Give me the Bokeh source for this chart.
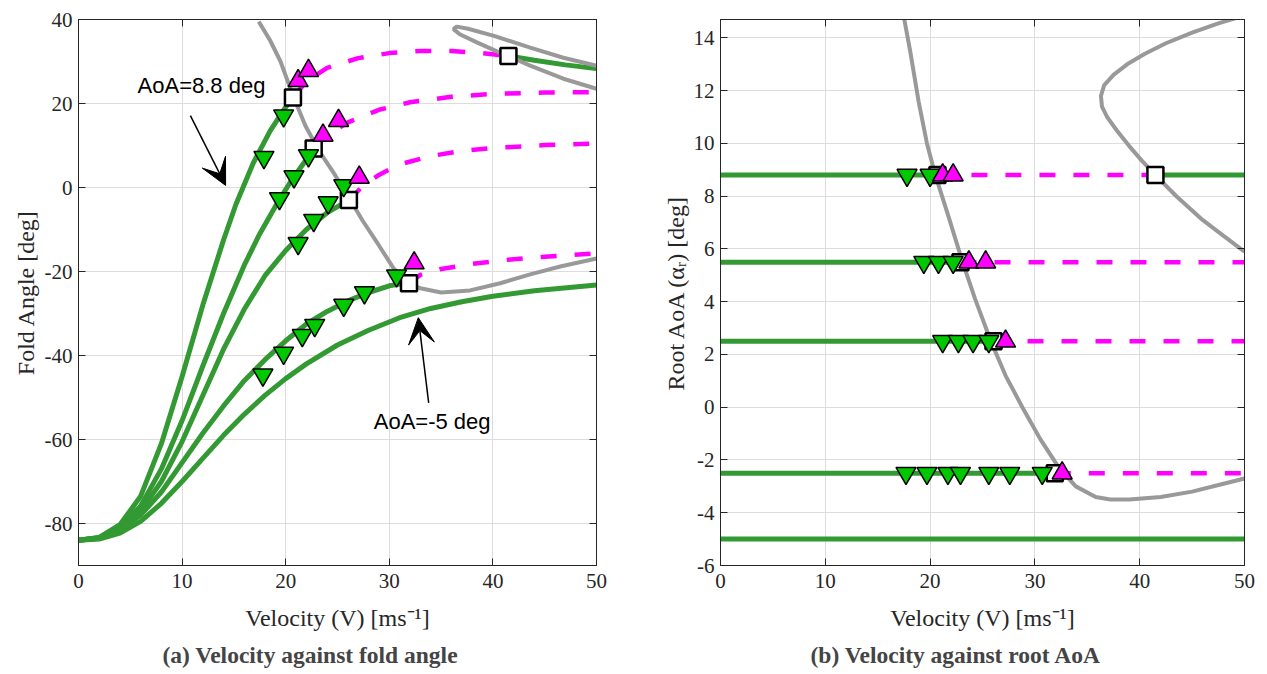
from bokeh.plotting import figure
from bokeh.layouts import row
from bokeh.models import LinearAxis, Label, Arrow, VeeHead, Title
from bokeh.embed import file_html
from bokeh.resources import INLINE

# ---------------- data: left plot (velocity vs fold angle) ----------------
# stable (green) branches
g88a_v = [0, 2, 4, 6, 8, 10, 12, 14, 15.2, 16.9, 18.5, 19.9, 20.7]
g88a_f = [-84, -83.3, -80.3, -73.5, -61, -45, -28, -12.5, -4, 6, 13.5, 18.8, 21.4]
g88b_v = [41.5, 44, 47, 50]
g88b_f = [31.3, 30.3, 29.2, 28.3]
g55_v = [0, 2, 4, 6, 8, 10, 12, 14, 16, 17.5, 19, 20.5, 21.8, 22.7]
g55_f = [-84, -83.4, -81, -75.8, -67, -55.5, -42.5, -30, -18.5, -11, -4.5, 1.5, 6, 9.3]
g25_v = [0, 2, 4, 6, 8, 10, 12, 14, 16, 18, 20, 22, 24, 26.1]
g25_f = [-84, -83.4, -81.3, -77, -70, -60.5, -49.5, -38.5, -29, -21, -15, -10, -6, -3]
gm25_v = [0, 2, 4, 6, 8, 10, 12, 14, 16, 18, 20, 22, 24, 26, 28, 30, 31, 31.9]
gm25_f = [-84, -83.5, -81.5, -78, -72.5, -65.5, -58.5, -52, -46, -41, -36.5, -32.5, -29.5, -27, -25, -23.4, -23, -22.8]
gm5_v = [0, 2, 4, 6, 8, 10, 12, 14, 16, 18, 20, 22, 25, 28, 31, 34, 37, 40, 44, 50]
gm5_f = [-84, -83.7, -82.3, -79.5, -75.2, -70, -64.5, -59, -54, -49.5, -45.5, -42, -37.5, -34, -31, -28.8, -27.2, -25.9, -24.6, -23.2]
# unstable (magenta dashed) branches
d88_v = [20.7, 22, 24, 27, 30, 33, 36, 39, 41.5]
d88_f = [21.4, 25.3, 28.5, 30.8, 32, 32.5, 32.5, 32, 31.3]
d55_v = [22.7, 24, 26, 29, 32, 36, 40, 45, 50]
d55_f = [9.3, 12.5, 15.5, 18.5, 20.3, 21.6, 22.3, 22.6, 22.7]
d25_v = [26.1, 27.5, 29, 31, 34, 37, 40, 45, 50]
d25_f = [-3, 0.5, 3, 5.5, 7.5, 8.7, 9.4, 10.1, 10.5]
dm25_v = [31.9, 33, 35, 38, 41, 45, 50]
dm25_f = [-22.8, -20.8, -19.4, -18.2, -17.3, -16.5, -15.7]
# bifurcation locus (grey)
gl_v = [17.4, 18.5, 19.5, 20.7, 21.9, 23.2, 24.6, 26.1, 27.4, 29, 30.4, 31.9, 33, 35, 37.8, 40.7, 43.6, 46.5, 50]
gl_f = [39.5, 35, 30, 21.9, 14.7, 8.8, 3.6, -2.4, -7.8, -13.8, -19.2, -22.8, -24, -25, -24.5, -22.8, -20.7, -18.8, -16.9]
gloop_v = [50, 46.8, 43.6, 40.1, 37.6, 36.5, 36.2, 36.8, 38.5, 40.5, 41.5, 43.6, 46.8, 50]
gloop_f = [29, 30.9, 33.3, 36.1, 37.8, 38.3, 37.7, 36.5, 34.5, 32.3, 31.3, 29, 25.9, 23.5]
# markers
sq_v = [20.7, 22.7, 26.1, 31.9, 41.5]
sq_f = [21.4, 9.3, -3, -22.8, 31.3]
up_v = [21.2, 22.2, 23.6, 25.1, 27.1, 32.4]
up_f = [25.4, 27.8, 12.4, 15.9, 2.4, -18]
dn_v = [17.9, 19.8, 19.4, 20.8, 22.2, 21.2, 22.7, 24.1, 25.6, 17.8, 19.8, 21.6, 22.8, 25.6, 27.6, 30.7]
dn_f = [7.2, 17.1, -2.6, 2.6, 7.6, -13.3, -7.8, -3.6, 0.5, -44.6, -39.4, -35.2, -32.8, -28, -25, -21]

# ---------------- data: right plot (velocity vs root AoA) ----------------
aoa = [8.8, 5.5, 2.5, -2.5, -5]
bif_v = [20.7, 22.9, 26.05, 31.9]          # first bifurcation per AoA (8.8, 5.5, 2.5, -2.5)
restab_v = 41.5                             # re-stabilisation for AoA 8.8
r_gl_v = [17.4, 18.1, 18.9, 19.7, 20.5, 21.7, 23.1, 24.3, 25.8, 27.2, 28.8, 30.5, 32.3, 33.9, 35.8, 37.2, 39, 42, 45, 48, 50]
r_gl_a = [15, 13.5, 11.6, 10, 8.8, 7.3, 5.5, 4.1, 2.5, 1.2, 0, -1.2, -2.3, -3, -3.4, -3.5, -3.5, -3.4, -3.2, -2.9, -2.7]
r_loop_v = [50, 47.5, 45, 42.5, 40.5, 38.8, 37.5, 36.6, 36.3, 36.4, 36.9, 37.8, 39.0, 40.2, 41.5, 43.5, 46, 48, 50]
r_loop_a = [14.85, 14.55, 14.2, 13.8, 13.4, 13.0, 12.6, 12.2, 11.8, 11.4, 11.0, 10.5, 9.9, 9.35, 8.8, 8.0, 7.1, 6.5, 5.9]
r_dn_v = [17.8, 20.0, 19.4, 20.8, 22.2, 21.2, 22.7, 24.1, 25.6, 17.7, 19.7, 21.7, 22.9, 25.6, 27.6, 30.7]
r_dn_a = [8.8, 8.8, 5.5, 5.5, 5.5, 2.5, 2.5, 2.5, 2.5, -2.5, -2.5, -2.5, -2.5, -2.5, -2.5, -2.5]
r_up_v = [21.2, 22.2, 23.7, 25.3, 27.2, 32.6]
r_up_a = [8.8, 8.8, 5.5, 5.5, 2.5, -2.5]
r_sq_v = [20.7, 22.9, 26.05, 31.9, 41.5]
r_sq_a = [8.8, 5.5, 2.5, -2.5, 8.8]

x_ticks = [0, 10, 20, 30, 40, 50]
l_yticks = [-80, -60, -40, -20, 0, 20, 40]
r_yticks = [-6, -4, -2, 0, 2, 4, 6, 8, 10, 12, 14]

GREEN = "#339933"
MGREEN = "#00C800"
MAG = "#FF00FF"
GREY = "#999999"
AX = "#262626"
SERIF = "Liberation Serif"
SANS = "Liberation Sans"


def style(p, yticks, ylabel, ylab_standoff):
    p.xaxis.ticker = x_ticks
    p.yaxis.ticker = yticks
    p.yaxis.major_label_overrides = {t: str(t) for t in yticks}
    for ax in (p.xaxis[0], p.yaxis[0]):
        ax.major_tick_in = 7
        ax.major_tick_out = 0
        ax.minor_tick_line_color = None
        ax.axis_line_color = AX
        ax.major_tick_line_color = AX
        ax.major_label_text_font = SERIF
        ax.major_label_text_font_size = "21px"
        ax.major_label_text_color = AX
        ax.axis_label_text_font = SERIF
        ax.axis_label_text_font_size = "24px"
        ax.axis_label_text_font_style = "normal"
        ax.axis_label_text_color = AX
    p.xaxis.axis_label = "Velocity (V) [ms\u207b\u00b9]"
    p.yaxis.axis_label = ylabel
    p.xaxis.major_label_standoff = 8
    p.xaxis.axis_label_standoff = 14
    p.yaxis.major_label_standoff = 6
    p.yaxis.axis_label_standoff = ylab_standoff
    # box: tick marks (inward) on the top and right edges
    for loc, tk in (("above", x_ticks), ("right", yticks)):
        a = LinearAxis(ticker=tk, major_tick_in=7, major_tick_out=0,
                       minor_tick_line_color=None, axis_line_color=AX,
                       major_tick_line_color=AX, major_label_text_font_size="0px",
                       major_label_standoff=0)
        p.add_layout(a, loc)
    p.grid.grid_line_color = "#dddddd"
    p.grid.grid_line_width = 1
    p.outline_line_color = AX
    p.background_fill_color = "white"
    p.border_fill_color = "white"


# ---------------- left figure ----------------
p1 = figure(width=640, height=674, x_range=(0, 50), y_range=(-90, 40),
            output_backend="svg", toolbar_location=None,
            min_border_left=78, min_border_right=44, min_border_top=19, min_border_bottom=60)
style(p1, l_yticks, "Fold Angle [deg]", 3)

for vx, fy in ((g88a_v, g88a_f), (g88b_v, g88b_f), (g55_v, g55_f), (g25_v, g25_f),
               (gm25_v, gm25_f), (gm5_v, gm5_f)):
    p1.line(vx, fy, line_color=GREEN, line_width=5)
for vx, fy in ((d88_v, d88_f), (d55_v, d55_f), (d25_v, d25_f), (dm25_v, dm25_f)):
    p1.line(vx, fy, line_color=MAG, line_width=4.5, line_dash="16 18")
p1.line(gl_v, gl_f, line_color=GREY, line_width=4)
p1.line(gloop_v, gloop_f, line_color=GREY, line_width=4)
p1.scatter(sq_v, sq_f, marker="square", size=16, fill_color="white", line_color="black", line_width=2.5)
p1.scatter(dn_v, dn_f, marker="inverted_triangle", size=20, fill_color=MGREEN, line_color="black", line_width=1.5)
p1.scatter(up_v, up_f, marker="triangle", size=20, fill_color=MAG, line_color="black", line_width=1.5)

p1.add_layout(Label(x=5.7, y=24.2, text="AoA=8.8 deg", text_font=SANS, text_font_size="22px",
                    text_baseline="middle", text_align="left", text_color="black"))
p1.add_layout(Arrow(end=VeeHead(size=26, fill_color="black", line_color="black"),
                    x_start=10.8, y_start=17.1, x_end=14.2, y_end=0.5, line_width=1.5))
p1.add_layout(Label(x=28.5, y=-55.8, text="AoA=-5 deg", text_font=SANS, text_font_size="22px",
                    text_baseline="middle", text_align="left", text_color="black"))
p1.add_layout(Arrow(end=VeeHead(size=26, fill_color="black", line_color="black"),
                    x_start=33.8, y_start=-51.3, x_end=32.8, y_end=-31.0, line_width=1.5))
p1.add_layout(Title(text="(a) Velocity against fold angle", align="left", text_font=SERIF,
                    text_font_size="23.5px", text_font_style="bold", offset=84, standoff=13), "below")

# ---------------- right figure ----------------
# (frames of the two panels are aligned by the row layout; the range top is set
#  so that the tick positions match the reference panel)
p2 = figure(width=627, height=674, x_range=(0, 50), y_range=(-6, 14.7),
            output_backend="svg", toolbar_location=None,
            min_border_left=80, min_border_right=23, min_border_top=11, min_border_bottom=60)
style(p2, r_yticks, "Root AoA (\u03b1\u1d63) [deg]", 2)

# stable segments
p2.segment(x0=[0] * 4 + [restab_v, 0], y0=aoa[:4] + [aoa[0], aoa[4]],
           x1=bif_v + [x_ticks[-1], x_ticks[-1]], y1=aoa[:4] + [aoa[0], aoa[4]],
           line_color=GREEN, line_width=5)
# unstable segments
for i in range(4):
    xe = restab_v if i == 0 else x_ticks[-1]
    p2.line([bif_v[i], xe], [aoa[i], aoa[i]], line_color=MAG, line_width=4.5, line_dash="16 18")
p2.line(r_gl_v, r_gl_a, line_color=GREY, line_width=4)
p2.line(r_loop_v, r_loop_a, line_color=GREY, line_width=4)
p2.scatter(r_sq_v, r_sq_a, marker="square", size=16, fill_color="white", line_color="black", line_width=2.5)
p2.scatter(r_dn_v, r_dn_a, marker="inverted_triangle", size=20, fill_color=MGREEN, line_color="black", line_width=1.5)
p2.scatter(r_up_v, r_up_a, marker="triangle", size=20, fill_color=MAG, line_color="black", line_width=1.5)
p2.add_layout(Title(text="(b) Velocity against root AoA", align="left", text_font=SERIF,
                    text_font_size="23.5px", text_font_style="bold", offset=90, standoff=13), "below")

layout = row(p1, p2)
open("out.html", "w").write(file_html(layout, INLINE))
